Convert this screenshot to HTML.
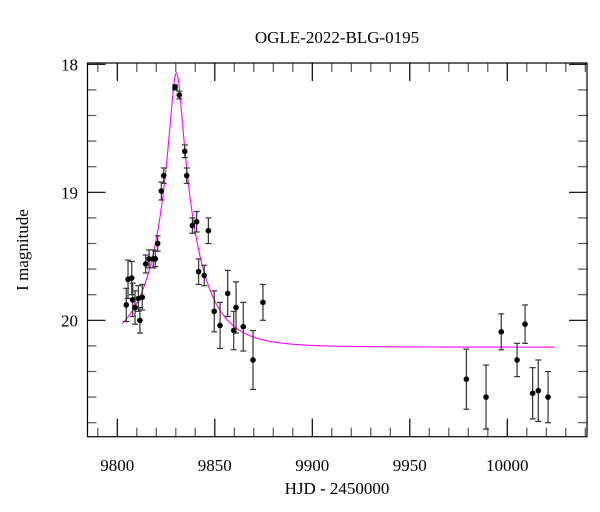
<!DOCTYPE html>
<html><head><meta charset="utf-8"><style>
body{margin:0;background:#fff;}
svg{display:block;font-family:"Liberation Serif",serif;}
</style></head><body>
<svg id="chart" width="600" height="512" viewBox="0 0 600 512">
<text x="337" y="43" text-anchor="middle" font-size="17">OGLE-2022-BLG-0195</text>
<text transform="translate(28,250) rotate(-90)" text-anchor="middle" font-size="17">I magnitude</text>
<text x="337" y="494" text-anchor="middle" font-size="17">HJD - 2450000</text>
<g id="ticks"></g>
<g id="model"></g>
<g id="pts"></g>
<rect x="87.5" y="63" width="499.5" height="373.7" fill="none" stroke="#000" stroke-width="1.2"/>
</svg>
<script>
const days=[9804.6,9805.5,9807.4,9807.9,9809.1,9810.8,9811.6,9812.8,9814.6,9816.3,9818.5,9819.5,9820.7,9822.6,9823.8,9829.6,9831.8,9834.6,9835.6,9838.5,9840.7,9841.7,9844.6,9846.7,9849.7,9852.7,9856.6,9859.7,9860.9,9864.6,9869.6,9874.7,9979.0,9989.1,9996.9,10005.0,10009.1,10013.0,10015.9,10020.9];
const mags=[19.88,19.68,19.67,19.84,19.90,19.83,20.00,19.82,19.56,19.52,19.52,19.52,19.40,18.99,18.87,18.18,18.24,18.68,18.87,19.26,19.23,19.62,19.65,19.30,19.93,20.04,19.79,20.08,19.90,20.05,20.31,19.86,20.46,20.60,20.09,20.31,20.03,20.57,20.55,20.60];
const errs=[0.13,0.15,0.13,0.13,0.13,0.1,0.1,0.1,0.07,0.07,0.07,0.06,0.06,0.07,0.06,0.02,0.03,0.05,0.06,0.06,0.08,0.1,0.08,0.1,0.16,0.18,0.18,0.15,0.2,0.19,0.23,0.14,0.235,0.25,0.14,0.13,0.15,0.2,0.24,0.2];
const xTicks=[9800,9850,9900,9950,10000];
const yTicks=[18,19,20];
const model={t0:9830.3,u0:0.14,tE:21.4,base:20.21,tStart:9802.4,tEnd:10024.5};
const NS="http://www.w3.org/2000/svg";
const X=d=>117.3+(d-9800)*1.95;
const Y=m=>64.3+(m-18)*128;
const L=87.5,R=587,T=63,B=436.7;
function mk(tag,at,parent){const e=document.createElementNS(NS,tag);for(const k in at)e.setAttribute(k,at[k]);parent.appendChild(e);return e;}
const tk=document.getElementById('ticks');
for(let d=9790;d<=10040;d+=10){
  const x=X(d);const maj=xTicks.includes(d);const len=maj?18:9;
  const t1=mk('line',{x1:x,x2:x,y1:B,y2:B-len,stroke:maj?'#000':'#555','stroke-width':1.2},tk);
  
  
  const t2=mk('line',{x1:x,x2:x,y1:T,y2:T+len,stroke:maj?'#000':'#555','stroke-width':1.2},tk);
  
  
}
xTicks.forEach(d=>{const t=mk('text',{x:X(d),y:471,'text-anchor':'middle','font-size':17},tk);t.textContent=d;
  
  });
for(let i=0;i<=14;i++){
  const m=18+i*0.2;const y=Y(m);if(y>B-1)continue;
  const maj=Math.abs(m-Math.round(m))<1e-6;const len=maj?18:9;
  const a=mk('line',{x1:L,x2:L+len,y1:y,y2:y,stroke:maj?'#000':'#555','stroke-width':1.2},tk);
  
  
  const b=mk('line',{x1:R,x2:R-len,y1:y,y2:y,stroke:maj?'#000':'#555','stroke-width':1.2},tk);
  
  
}
yTicks.forEach(m=>{const t=mk('text',{x:78,y:Y(m)+6,'text-anchor':'end','font-size':17},tk);t.textContent=m;
  
  });
let dstr='';
for(let t=model.tStart;t<=model.tEnd;t+=0.25){
  const tau=(t-model.t0)/model.tE;const u=Math.sqrt(model.u0*model.u0+tau*tau);
  const A=(u*u+2)/(u*Math.sqrt(u*u+4));const m=model.base-2.5*Math.log10(A);
  dstr+=(dstr?'L':'M')+X(t).toFixed(2)+','+Y(m).toFixed(2);
}
const mp=mk('path',{d:dstr,fill:'none',stroke:'#ff00ff','stroke-width':1.1},document.getElementById('model'));


const pg=document.getElementById('pts');
days.forEach((d,i)=>{
  const x=X(d),y=Y(mags[i]),e=errs[i]*128;
  const g=mk('g',{},pg);
  
  
  mk('line',{x1:x,x2:x,y1:y-e,y2:y+e,stroke:'#333','stroke-width':1.2},g);
  mk('line',{x1:x-3,x2:x+3,y1:y-e,y2:y-e,stroke:'#333','stroke-width':1.2},g);
  mk('line',{x1:x-3,x2:x+3,y1:y+e,y2:y+e,stroke:'#333','stroke-width':1.2},g);
  mk('circle',{cx:x,cy:y,r:2.8,fill:'#000'},g);
});
</script>
</body></html>
